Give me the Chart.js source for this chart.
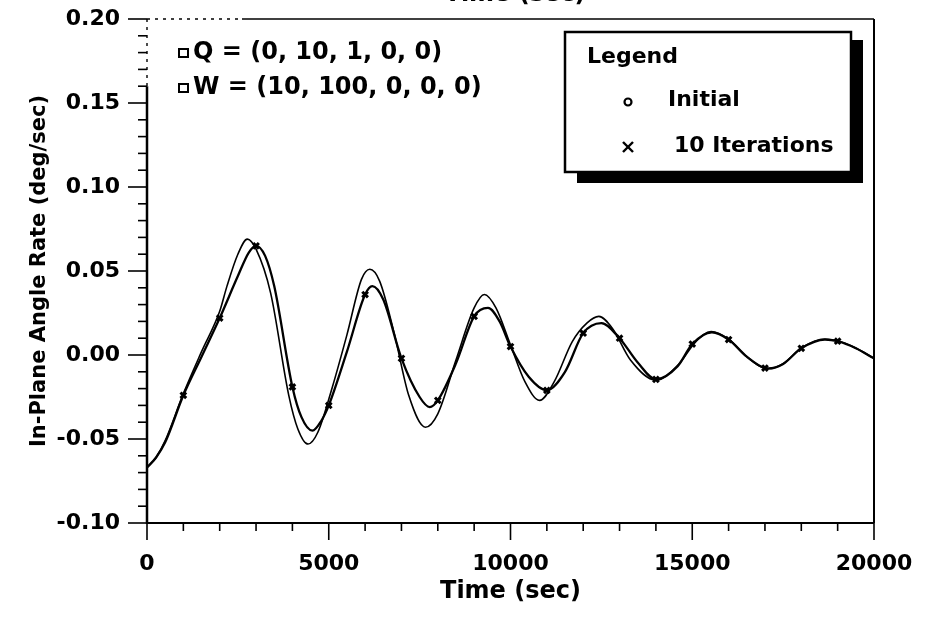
<!DOCTYPE html>
<html><head><meta charset="utf-8">
<script src="https://cdn.jsdelivr.net/npm/chart.js@4"></script>
<style>html,body{margin:0;padding:0;background:#fff}#wrap{width:930px;height:617px;position:relative}</style>
</head><body><div id="wrap"><canvas id="c" width="930" height="617"></canvas></div>
<script>
// ---- data ----
const initialTime = [0,250,500,1000,1500,2000,2200,2500,2760,3000,3400,3900,4150,4430,4700,5100,5500,5900,6130,6400,6800,7200,7660,8000,8500,9000,9280,9600,10000,10400,10800,11200,11700,12100,12430,12800,13300,14000,14600,15100,15520,16000,16500,17080,17500,18000,18650,19100,19500,20000];
const initialRate = [-0.067,-0.061,-0.051,-0.023,0.002,0.026,0.041,0.060,0.069,0.063,0.037,-0.024,-0.044,-0.053,-0.046,-0.019,0.012,0.045,0.051,0.044,0.013,-0.024,-0.043,-0.035,-0.003,0.028,0.036,0.028,0.006,-0.016,-0.027,-0.016,0.008,0.019,0.023,0.016,-0.003,-0.015,-0.0062,0.008,0.014,0.0095,-0.001,-0.0082,-0.0052,0.0042,0.0095,0.0078,0.0042,-0.002];
const iterTime = [0,250,500,1000,1500,2000,2500,2800,3000,3250,3500,4000,4250,4550,4800,5000,5500,6000,6200,6500,7000,7500,7780,8000,8500,9000,9380,9700,10000,10500,11000,11500,12000,12500,13000,13500,14000,14600,15000,15540,16000,16500,17000,17100,17500,18000,18650,19000,19500,20000];
const iterRate = [-0.067,-0.061,-0.052,-0.024,-0.001,0.022,0.047,0.061,0.065,0.059,0.041,-0.019,-0.037,-0.045,-0.039,-0.030,0.002,0.036,0.041,0.033,-0.002,-0.025,-0.031,-0.027,-0.005,0.023,0.028,0.020,0.005,-0.013,-0.021,-0.010,0.013,0.019,0.010,-0.0045,-0.0145,-0.0066,0.0065,0.0135,0.0092,-0.001,-0.0078,-0.008,-0.0053,0.004,0.0092,0.0082,0.004,-0.002];
const seriesNames = ['Initial','10 Iterations'];
const xTickLabels = ['0','5000','10000','15000','20000'];
const yTickLabels = ['-0.10','-0.05','0.00','0.05','0.10','0.15','0.20'];
const weightNotes = ['Q = (0, 10, 1, 0, 0)','W = (10, 100, 0, 0, 0)'];
const xTitle = 'Time (sec)';
const yTitle = 'In-Plane Angle Rate (deg/sec)';
const topCutText = 'Time (sec)';
const legendTitle = 'Legend';

const FONT = 'DejaVu Sans';
const toXY = (ts, vs) => ts.map((t, i) => ({x: t, y: vs[i]}));

function line(ctx, x1, y1, x2, y2){ctx.beginPath();ctx.moveTo(x1,y1);ctx.lineTo(x2,y2);ctx.stroke();}
function noScalePadding(s){ s.paddingTop = 0; s.paddingBottom = 0; s.paddingLeft = 0; s.paddingRight = 0; }

const framePlugin = {
  id: 'frame',
  afterDraw(chart){
    const {ctx, chartArea: a, scales: {x, y}} = chart;
    ctx.save();
    ctx.strokeStyle = '#000'; ctx.fillStyle = '#000'; ctx.lineCap = 'butt';
    const y16 = y.getPixelForValue(0.16);
    ctx.lineWidth = 2.5; line(ctx, a.left, y16, a.left, a.bottom + 1);
    ctx.lineWidth = 1.4; ctx.setLineDash([3,5]); line(ctx, a.left, a.top, a.left, y16);
    line(ctx, a.left, a.top, a.left + 95, a.top);
    ctx.setLineDash([]);
    ctx.lineWidth = 1.6; line(ctx, a.left + 95, a.top, a.right, a.top);
    ctx.lineWidth = 2; line(ctx, a.right, a.top, a.right, a.bottom);
    ctx.lineWidth = 2; line(ctx, a.left, a.bottom, a.right, a.bottom);
    ctx.lineWidth = 1.6;
    for (let k = -10; k <= 20; k++) {
      const py = y.getPixelForValue(k / 100);
      const len = (k % 5 === 0) ? 19 : 9;
      line(ctx, a.left - len, py, a.left, py);
    }
    for (let t = 0; t <= 20000; t += 1000) {
      const px = x.getPixelForValue(t);
      const len = (t % 5000 === 0) ? 17 : 8;
      line(ctx, px, a.bottom, px, a.bottom + len);
    }
    // cut-off title of the plot above
    ctx.font = 'bold 24px "' + FONT + '"';
    ctx.textAlign = 'center'; ctx.textBaseline = 'alphabetic';
    ctx.fillText(topCutText, 515, 1);

    // weight notes (top-left)
    ctx.font = 'bold 24px "' + FONT + '"';
    ctx.textAlign = 'left'; ctx.textBaseline = 'middle';
    ctx.lineWidth = 2;
    const noteY = [53, 88];
    weightNotes.forEach((s, i) => {
      ctx.strokeRect(179, noteY[i] - 4, 9, 8);
      ctx.fillText(s, 193, noteY[i]);
    });

    // legend box with shadow
    const bx = 565, by = 32, bw = 286, bh = 140;
    ctx.fillRect(bx + 12, by + 8, bw, bh + 3);
    ctx.fillStyle = '#fff'; ctx.fillRect(bx, by, bw, bh);
    ctx.fillStyle = '#000';
    ctx.lineWidth = 2.5; ctx.strokeRect(bx, by, bw, bh);
    ctx.font = 'bold 22px "' + FONT + '"';
    ctx.fillText(legendTitle, 587, 57);
    ctx.fillText(seriesNames[0], 668, 100);
    ctx.fillText(seriesNames[1], 674, 146);
    ctx.lineWidth = 2.2;
    ctx.beginPath(); ctx.arc(628, 102, 3.5, 0, Math.PI * 2); ctx.stroke();
    ctx.lineWidth = 2.4;
    line(ctx, 623, 142, 633, 152); line(ctx, 633, 142, 623, 152);
    ctx.restore();
  }
};

new Chart(document.getElementById('c'), {
  type: 'line',
  data: {
    datasets: [
      {
        label: seriesNames[0],
        data: toXY(initialTime, initialRate),
        borderColor: '#000', borderWidth: 1.6,
        pointRadius: 0, cubicInterpolationMode: 'monotone', fill: false
      },
      {
        label: seriesNames[1],
        data: toXY(iterTime, iterRate),
        borderColor: '#000', borderWidth: 2.3,
        pointStyle: 'crossRot',
        pointRadius: c => { const v = c.raw; return (v && v.x % 1000 === 0 && v.x > 0 && v.x < 20000) ? 4 : 0; },
        pointBorderWidth: 3, pointBorderColor: '#000', pointBackgroundColor: '#000',
        cubicInterpolationMode: 'monotone', fill: false
      }
    ]
  },
  options: {
    responsive: false, animation: false, devicePixelRatio: 1,
    layout: {autoPadding: false, padding: {left: 0, right: 56, top: 19, bottom: 0}},
    plugins: {legend: {display: false}, tooltip: {enabled: false}},
    scales: {
      x: {
        type: 'linear', min: 0, max: 20000,
        afterFit: s => { s.height = 94; noScalePadding(s); },
        grid: {display: false, drawTicks: false},
        border: {display: false},
        ticks: {stepSize: 5000, padding: 28, color: '#000', maxRotation: 0,
          font: {family: FONT, size: 22, weight: 'bold'},
          callback: (v, i) => xTickLabels[i]},
        title: {display: true, text: xTitle, color: '#000', padding: {top: 0, bottom: 11},
          font: {family: FONT, size: 24, weight: 'bold'}}
      },
      y: {
        min: -0.10, max: 0.20,
        afterFit: s => { s.width = 147; noScalePadding(s); },
        grid: {display: false, drawTicks: false},
        border: {display: false},
        ticks: {stepSize: 0.05, padding: 27, color: '#000',
          font: {family: FONT, size: 22, weight: 'bold'},
          callback: (v, i) => yTickLabels[i]},
        title: {display: true, text: yTitle, color: '#000', padding: {top: 27, bottom: 0},
          font: {family: FONT, size: 21, weight: 'bold'}}
      }
    }
  },
  plugins: [framePlugin]
});
</script></body></html>
